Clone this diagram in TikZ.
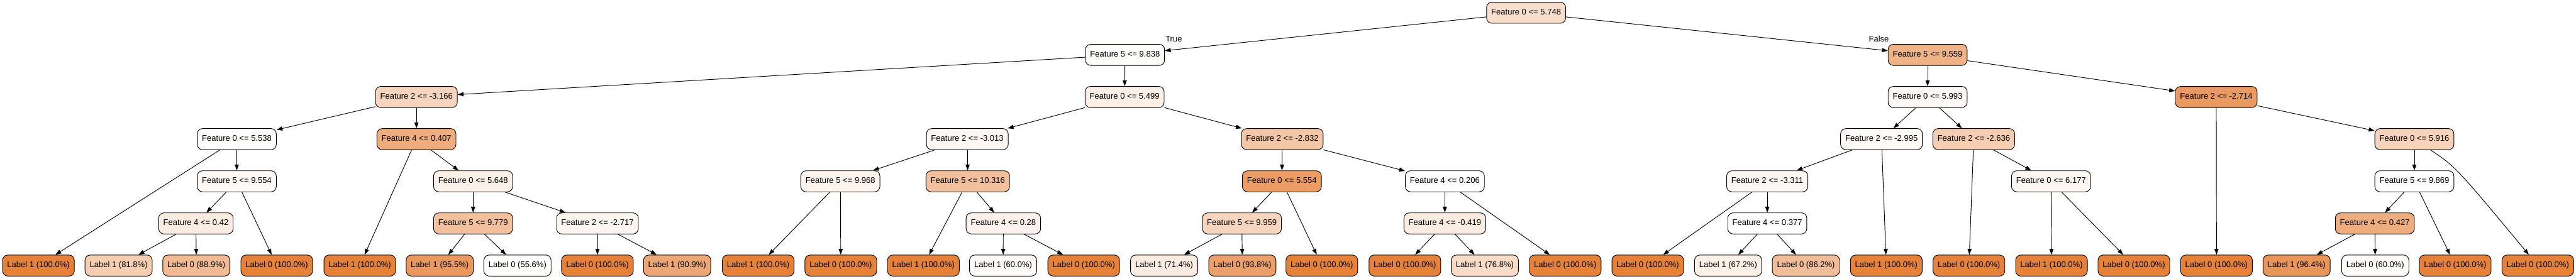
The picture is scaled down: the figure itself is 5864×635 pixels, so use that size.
\documentclass[tikz,border=0pt]{standalone}
\usepackage{fontspec}
\setmainfont{Liberation Sans}
\usetikzlibrary{arrows.meta}
\definecolor{oc}{HTML}{E58139}
\begin{document}
\begin{tikzpicture}[x=0.75pt,y=-0.75pt,
  tn/.style={draw=black, line width=1pt, fill=oc!#1!white, rounded corners=9pt,
    minimum height=36pt, inner xsep=7.92pt, inner ysep=0pt,
    font=\fontsize{14}{16}\selectfont, text height=10pt, text depth=3pt},
  conn/.style={line width=1pt, -{Triangle[length=10pt,width=7pt]}},
  lbl/.style={font=\fontsize{14}{16}\selectfont, inner sep=0pt}]
\useasboundingbox (0,0) rectangle (5864,635);
\fill[white] (0,0) rectangle (5864,635);
% level 0-1
\node[tn=25] (n0) at (3474,29) {Feature 0 <= 5.748};
\node[tn=1] (n1) at (2561,125) {Feature 5 <= 9.838};
\node[tn=60] (n2) at (4388,125) {Feature 5 <= 9.559};
% level 2
\node[tn=33] (n3) at (948,221) {Feature 2 <= -3.166};
\node[tn=13] (n4) at (2560,221) {Feature 0 <= 5.499};
\node[tn=5] (n5) at (4388,221) {Feature 0 <= 5.993};
\node[tn=80] (n6) at (5045,221) {Feature 2 <= -2.714};
% level 3
\node[tn=1] (n7) at (539,317) {Feature 0 <= 5.538};
\node[tn=65] (n8) at (948,317) {Feature 4 <= 0.407};
\node[tn=6] (n9) at (2202,317) {Feature 2 <= -3.013};
\node[tn=45] (n10) at (2919,317) {Feature 2 <= -2.832};
\node[tn=4] (n11) at (4283,317) {Feature 2 <= -2.995};
\node[tn=40] (n12) at (4493,317) {Feature 2 <= -2.636};
\node[tn=35] (n13) at (5496,317) {Feature 0 <= 5.916};
% level 4
\node[tn=5] (n14) at (539,413) {Feature 5 <= 9.554};
\node[tn=11] (n15) at (1077,413) {Feature 0 <= 5.648};
\node[tn=9] (n16) at (1913,413) {Feature 5 <= 9.968};
\node[tn=50] (n17) at (2203,413) {Feature 5 <= 10.316};
\node[tn=78] (n18) at (2918,413) {Feature 0 <= 5.554};
\node[tn=0] (n19) at (3289,413) {Feature 4 <= 0.206};
\node[tn=6] (n20) at (4023,413) {Feature 2 <= -3.311};
\node[tn=7] (n21) at (4669,413) {Feature 0 <= 6.177};
\node[tn=0] (n22) at (5496,413) {Feature 5 <= 9.869};
% level 5
\node[tn=15] (n23) at (446,509) {Feature 4 <= 0.42};
\node[tn=50] (n24) at (1077,509) {Feature 5 <= 9.779};
\node[tn=8] (n25) at (1360,509) {Feature 2 <= -2.717};
\node[tn=10] (n26) at (2284,509) {Feature 4 <= 0.28};
\node[tn=33] (n27) at (2827,509) {Feature 5 <= 9.959};
\node[tn=15] (n28) at (3289,509) {Feature 4 <= -0.419};
\node[tn=0] (n29) at (4023,509) {Feature 4 <= 0.377};
\node[tn=65] (n30) at (5406,509) {Feature 4 <= 0.427};
% leaves
\node[tn=100] (l1) at (87.5,605) {Label 1 (100.0\%)};
\node[tn=40] (l2) at (270,605) {Label 1 (81.8\%)};
\node[tn=55] (l3) at (447,605) {Label 0 (88.9\%)};
\node[tn=100] (l4) at (630,605) {Label 0 (100.0\%)};
\node[tn=100] (l5) at (819,605) {Label 1 (100.0\%)};
\node[tn=82] (l6) at (1001,605) {Label 1 (95.5\%)};
\node[tn=1] (l7) at (1178,605) {Label 0 (55.6\%)};
\node[tn=100] (l8) at (1360,605) {Label 0 (100.0\%)};
\node[tn=70] (l9) at (1541.5,605) {Label 1 (90.9\%)};
\node[tn=100] (l10) at (1726,605) {Label 1 (100.0\%)};
\node[tn=100] (l11) at (1914,605) {Label 0 (100.0\%)};
\node[tn=100] (l12) at (2102,605) {Label 1 (100.0\%)};
\node[tn=3] (l13) at (2283.5,605) {Label 1 (60.0\%)};
\node[tn=100] (l14) at (2467,605) {Label 0 (100.0\%)};
\node[tn=15] (l15) at (2650,605) {Label 1 (71.4\%)};
\node[tn=75] (l16) at (2828,605) {Label 0 (93.8\%)};
\node[tn=100] (l17) at (3009,605) {Label 0 (100.0\%)};
\node[tn=100] (l18) at (3198,605) {Label 0 (100.0\%)};
\node[tn=28] (l19) at (3380,605) {Label 1 (76.8\%)};
\node[tn=100] (l20) at (3563,605) {Label 0 (100.0\%)};
\node[tn=100] (l21) at (3751,605) {Label 0 (100.0\%)};
\node[tn=12] (l22) at (3934,605) {Label 1 (67.2\%)};
\node[tn=52] (l23) at (4111,605) {Label 0 (86.2\%)};
\node[tn=100] (l24) at (4294,605) {Label 1 (100.0\%)};
\node[tn=100] (l25) at (4482,605) {Label 0 (100.0\%)};
\node[tn=100] (l26) at (4670,605) {Label 1 (100.0\%)};
\node[tn=100] (l27) at (4857.5,605) {Label 0 (100.0\%)};
\node[tn=100] (l28) at (5045.6,605) {Label 0 (100.0\%)};
\node[tn=84] (l29) at (5228,605) {Label 1 (96.4\%)};
\node[tn=3] (l30) at (5407,605) {Label 0 (60.0\%)};
\node[tn=100] (l31) at (5589,605) {Label 0 (100.0\%)};
\node[tn=100] (l32) at (5777,605) {Label 0 (100.0\%)};
% edge labels
\node[lbl] (tl) at (2672,89) {True};
\node[lbl] (fl) at (4277,89) {False};
% edges
\draw[conn] (n0) -- (n1);
\draw[conn] (n0) -- (n2);
\draw[conn] (n1) -- (n3);
\draw[conn] (n1) -- (n4);
\draw[conn] (n2) -- (n5);
\draw[conn] (n2) -- (n6);
\draw[conn] (n3) -- (n7);
\draw[conn] (n3) -- (n8);
\draw[conn] (n4) -- (n9);
\draw[conn] (n4) -- (n10);
\draw[conn] (n5) -- (n11);
\draw[conn] (n5) -- (n12);
\draw[conn] (n6) -- (l28);
\draw[conn] (n6) -- (n13);
\draw[conn] (n7) -- (l1);
\draw[conn] (n7) -- (n14);
\draw[conn] (n8) -- (l5);
\draw[conn] (n8) -- (n15);
\draw[conn] (n9) -- (n16);
\draw[conn] (n9) -- (n17);
\draw[conn] (n10) -- (n18);
\draw[conn] (n10) -- (n19);
\draw[conn] (n11) -- (n20);
\draw[conn] (n11) -- (l24);
\draw[conn] (n12) -- (l25);
\draw[conn] (n12) -- (n21);
\draw[conn] (n13) -- (n22);
\draw[conn] (n13) .. controls (5590,380) .. (l32);
\draw[conn] (n14) -- (n23);
\draw[conn] (n14) -- (l4);
\draw[conn] (n15) -- (n24);
\draw[conn] (n15) -- (n25);
\draw[conn] (n16) -- (l10);
\draw[conn] (n16) -- (l11);
\draw[conn] (n17) -- (l12);
\draw[conn] (n17) -- (n26);
\draw[conn] (n18) -- (n27);
\draw[conn] (n18) -- (l17);
\draw[conn] (n19) -- (n28);
\draw[conn] (n19) -- (l20);
\draw[conn] (n20) -- (l21);
\draw[conn] (n20) -- (n29);
\draw[conn] (n21) -- (l26);
\draw[conn] (n21) -- (l27);
\draw[conn] (n22) -- (n30);
\draw[conn] (n22) -- (l31);
\draw[conn] (n23) -- (l2);
\draw[conn] (n23) -- (l3);
\draw[conn] (n24) -- (l6);
\draw[conn] (n24) -- (l7);
\draw[conn] (n25) -- (l8);
\draw[conn] (n25) -- (l9);
\draw[conn] (n26) -- (l13);
\draw[conn] (n26) -- (l14);
\draw[conn] (n27) -- (l15);
\draw[conn] (n27) -- (l16);
\draw[conn] (n28) -- (l18);
\draw[conn] (n28) -- (l19);
\draw[conn] (n29) -- (l22);
\draw[conn] (n29) -- (l23);
\draw[conn] (n30) -- (l29);
\draw[conn] (n30) -- (l30);
\end{tikzpicture}
\end{document}
